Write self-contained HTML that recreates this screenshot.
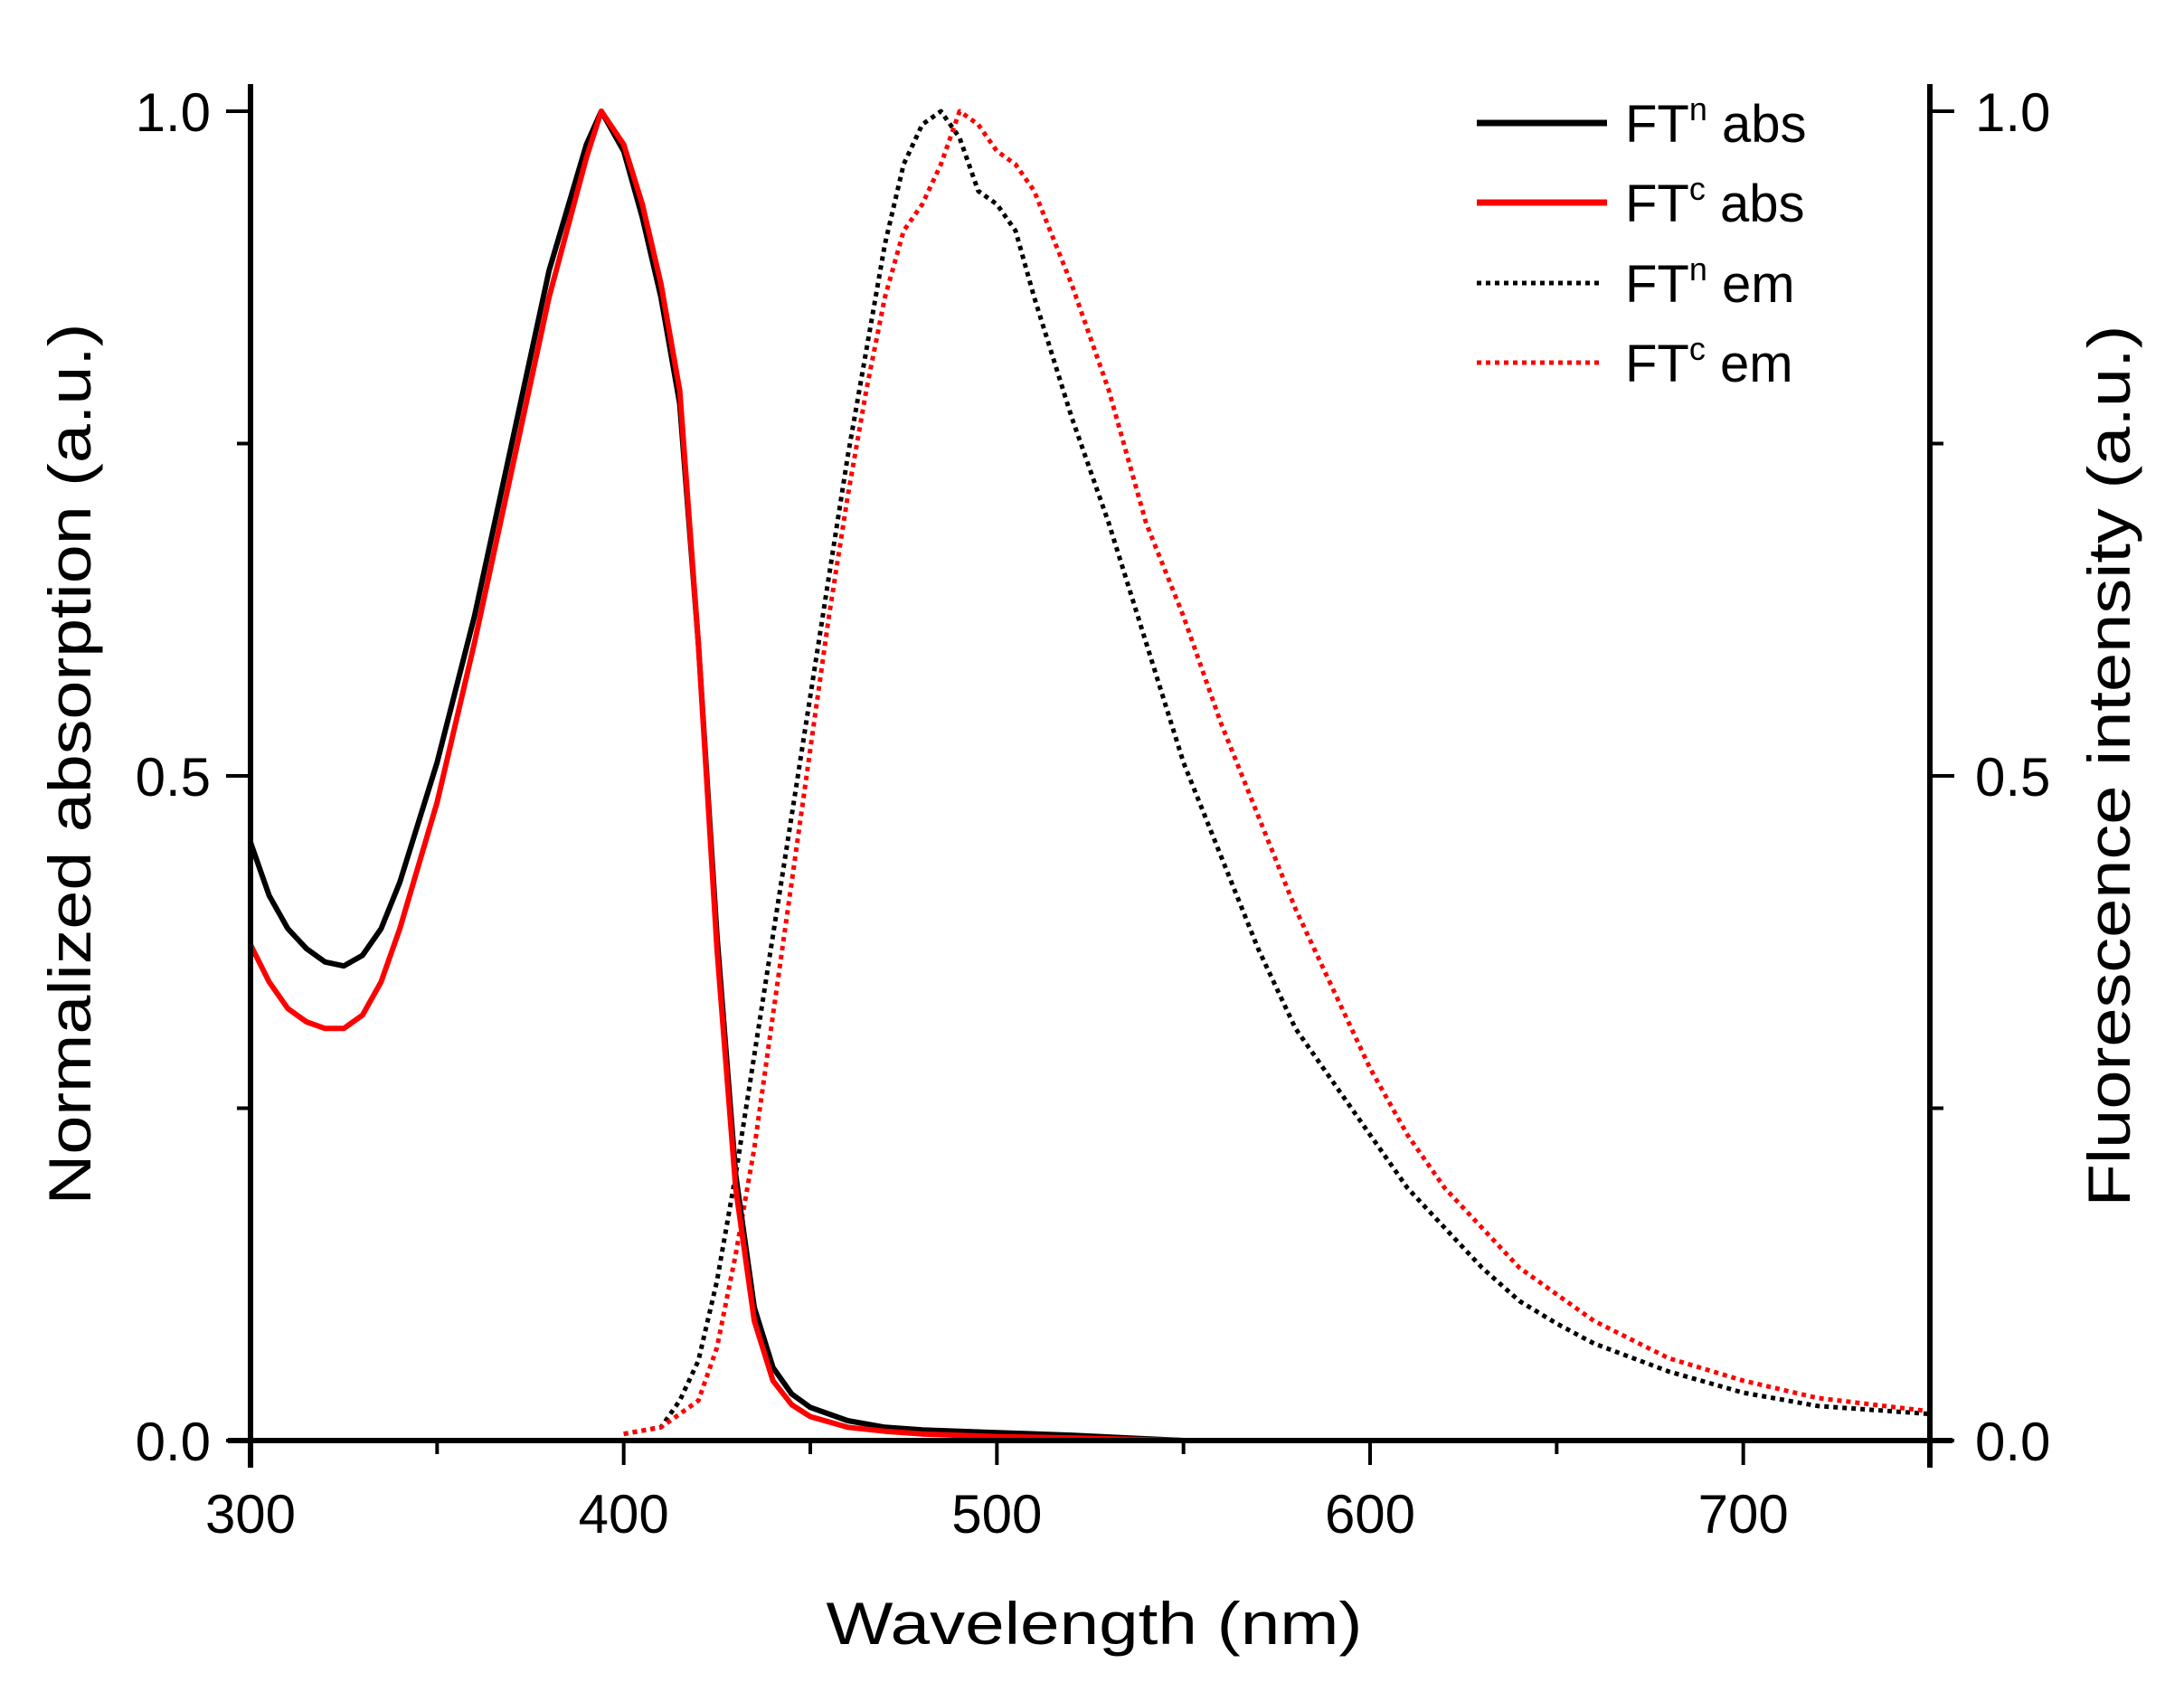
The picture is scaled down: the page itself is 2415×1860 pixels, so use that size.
<!DOCTYPE html>
<html><head><meta charset="utf-8"><style>
html,body{margin:0;padding:0;background:#fff}
svg{display:block;font-family:"Liberation Sans",Arial,sans-serif}
</style></head><body>
<svg id="chart" width="2415" height="1860" viewBox="0 0 2415 1860" xmlns="http://www.w3.org/2000/svg">
<g id="plot"></g>
<g id="axes"></g>
<text x="1210" y="1818" font-size="66" text-anchor="middle" textLength="593" lengthAdjust="spacingAndGlyphs">Wavelength (nm)</text>
<text transform="translate(100,845) rotate(-90)" font-size="66" text-anchor="middle" textLength="975" lengthAdjust="spacingAndGlyphs">Normalized absorption (a.u.)</text>
<text transform="translate(2355,847) rotate(-90)" font-size="66" text-anchor="middle" textLength="975" lengthAdjust="spacingAndGlyphs">Fluorescence intensity (a.u.)</text>
<g font-size="58">
  <g>
    <line x1="1633" y1="136" x2="1777" y2="136" stroke="#000" stroke-width="7"/>
    <text x="1797" y="157">FT<tspan font-size="36" dy="-24">n</tspan><tspan dy="24"> abs</tspan></text>
  </g>
  <g>
    <line x1="1633" y1="224" x2="1777" y2="224" stroke="#f00" stroke-width="7"/>
    <text x="1797" y="245">FT<tspan font-size="36" dy="-24">c</tspan><tspan dy="24"> abs</tspan></text>
  </g>
  <g>
    <line x1="1633" y1="313" x2="1768" y2="313" stroke="#000" stroke-width="5" stroke-dasharray="5 5"/>
    <text x="1797" y="334">FT<tspan font-size="36" dy="-24">n</tspan><tspan dy="24"> em</tspan></text>
  </g>
  <g>
    <line x1="1633" y1="401" x2="1768" y2="401" stroke="#f00" stroke-width="5" stroke-dasharray="5 5"/>
    <text x="1797" y="422">FT<tspan font-size="36" dy="-24">c</tspan><tspan dy="24"> em</tspan></text>
  </g>
</g>
</svg>
<script>
const absWl = [300,305,310,315,320,325,330,335,340,350,360,370,380,390,394,400,405,410,415,420,425,430,435,440,445,450,460,470,480,500,520,550];
const ftnAbs = [0.45,0.41,0.385,0.37,0.36,0.357,0.365,0.385,0.42,0.51,0.62,0.75,0.88,0.975,1.0,0.97,0.92,0.86,0.78,0.6,0.38,0.2,0.1,0.055,0.035,0.025,0.015,0.01,0.008,0.006,0.004,0.0];
const ftcAbs = [0.373,0.345,0.325,0.315,0.31,0.31,0.32,0.345,0.385,0.48,0.6,0.73,0.86,0.965,1.0,0.975,0.93,0.87,0.79,0.6,0.37,0.19,0.09,0.045,0.027,0.018,0.01,0.007,0.005,0.003,0.002,0.0];
const emWl = [400,410,415,420,425,430,435,440,445,450,455,460,465,470,475,480,485,490,495,500,505,510,520,530,540,550,560,570,580,590,600,610,620,630,640,650,660,680,700,720,750];
const ftnEm = [0.005,0.01,0.03,0.06,0.12,0.2,0.29,0.38,0.47,0.56,0.65,0.74,0.82,0.9,0.96,0.99,1.0,0.98,0.94,0.93,0.91,0.86,0.77,0.69,0.6,0.51,0.44,0.37,0.31,0.27,0.23,0.19,0.16,0.13,0.105,0.088,0.073,0.052,0.036,0.026,0.02];
const ftcEm = [0.005,0.01,0.02,0.03,0.07,0.14,0.22,0.32,0.42,0.52,0.62,0.71,0.79,0.86,0.91,0.93,0.96,1.0,0.99,0.97,0.96,0.94,0.87,0.79,0.69,0.62,0.54,0.47,0.4,0.34,0.28,0.23,0.19,0.16,0.13,0.11,0.09,0.062,0.045,0.032,0.022];
const xTicks = [300,400,500,600,700];
const xMinor = [350,450,550,650,750];
const yTicks = [0,0.5,1.0];
const yTickLabels = ["0.0","0.5","1.0"];
const yMinor = [0.25,0.75];

const X0=277,X1=2134,Y0=1593,Y1=123;
const xs = v => X0 + (v-300)/(750-300)*(X1-X0);
const ys = v => Y0 - v*(Y0-Y1);
const NS="http://www.w3.org/2000/svg";
const plot=document.getElementById('plot'), axes=document.getElementById('axes');
function mk(tag,attrs,parent){const e=document.createElementNS(NS,tag);for(const k in attrs)e.setAttribute(k,attrs[k]);parent.appendChild(e);return e;}

function series(wl,vals,color,dotted,name){
  const d=wl.map((w,i)=>(i?'L':'M')+xs(w).toFixed(1)+' '+ys(vals[i]).toFixed(1)).join(' ');
  const p=mk('path',{d:d,fill:'none',stroke:color,'stroke-width':dotted?5:6,'stroke-linejoin':'round'},plot);
  if(dotted)p.setAttribute('stroke-dasharray','5 5');
  
  
}
series(emWl,ftnEm,'#000',true,'ftn-em-line');
series(emWl,ftcEm,'#f00',true,'ftc-em-line');
series(absWl,ftnAbs,'#000',false,'ftn-abs-line');
series(absWl,ftcAbs,'#f00',false,'ftc-abs-line');

let l;
l=mk('line',{x1:X0-25,y1:Y0,x2:X1+25,y2:Y0,stroke:'#000','stroke-width':6},axes);


l=mk('line',{x1:X0,y1:Y1-30,x2:X0,y2:Y0+30,stroke:'#000','stroke-width':6},axes);


l=mk('line',{x1:X1,y1:Y1-30,x2:X1,y2:Y0+30,stroke:'#000','stroke-width':6},axes);



xTicks.forEach(t=>{
  const tk=mk('line',{x1:xs(t),y1:Y0,x2:xs(t),y2:Y0+27,stroke:'#000','stroke-width':4},axes);
  
  
  const tx=mk('text',{x:xs(t),y:Y0+102,'font-size':60,'text-anchor':'middle'},axes);
  tx.textContent=t;
  
  
});
xMinor.forEach(t=>{
  const tk=mk('line',{x1:xs(t),y1:Y0,x2:xs(t),y2:Y0+15,stroke:'#000','stroke-width':4},axes);
  
  
});
yTicks.forEach((t,i)=>{
  const a=mk('line',{x1:X0-27,y1:ys(t),x2:X0,y2:ys(t),stroke:'#000','stroke-width':4},axes);
  
  
  const b=mk('line',{x1:X1,y1:ys(t),x2:X1+27,y2:ys(t),stroke:'#000','stroke-width':4},axes);
  
  
  const tl=mk('text',{x:X0-44,y:ys(t)+22,'font-size':60,'text-anchor':'end'},axes);
  tl.textContent=yTickLabels[i];
  
  
  const tr=mk('text',{x:X1+50,y:ys(t)+22,'font-size':60,'text-anchor':'start'},axes);
  tr.textContent=yTickLabels[i];
  
  
});
yMinor.forEach(t=>{
  const a=mk('line',{x1:X0-15,y1:ys(t),x2:X0,y2:ys(t),stroke:'#000','stroke-width':4},axes);
  
  
  const b=mk('line',{x1:X1,y1:ys(t),x2:X1+15,y2:ys(t),stroke:'#000','stroke-width':4},axes);
  
  
});
</script>
</body></html>
